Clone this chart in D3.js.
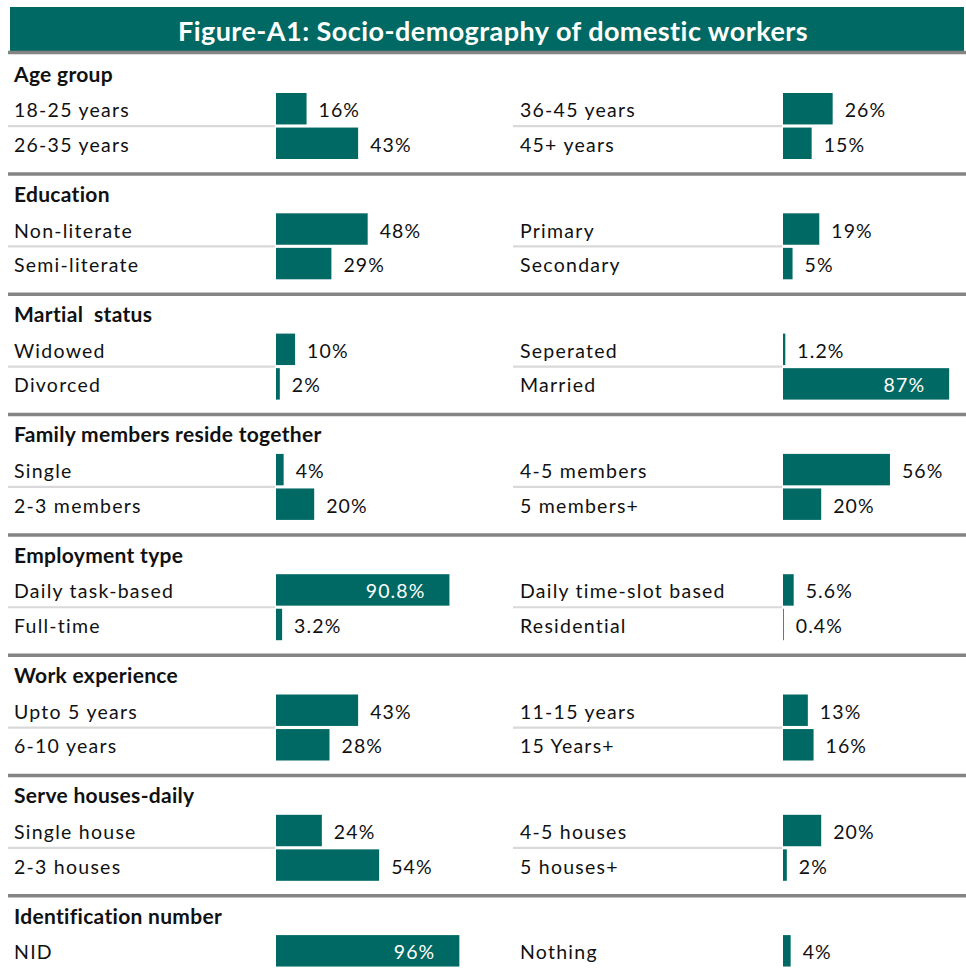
<!DOCTYPE html>
<html>
<head>
<meta charset="utf-8">
<script src="https://cdn.jsdelivr.net/npm/d3@7"></script>
<style>
  html, body { margin: 0; padding: 0; background: #ffffff; }
  svg { display: block; }
  text { font-family: Lato, "Open Sans", sans-serif; }
</style>
</head>
<body>
<svg id="chart" width="966" height="974"></svg>
<script>
// ---- data -------------------------------------------------------------
const title = "Figure-A1: Socio-demography of domestic workers";

const sectionNames = [
  "Age group",
  "Education",
  "Martial  status",
  "Family members reside together",
  "Employment type",
  "Work experience",
  "Serve houses-daily",
  "Identification number"
];

const ageGroups      = ["18-25 years", "26-35 years", "36-45 years", "45+ years"];
const ageShares      = [16, 43, 26, 15];

const educationLevels = ["Non-literate", "Semi-literate", "Primary", "Secondary"];
const educationShares = [48, 29, 19, 5];

const maritalStatus  = ["Widowed", "Divorced", "Seperated", "Married"];
const maritalShares  = [10, 2, 1.2, 87];

const familySizes    = ["Single", "2-3 members", "4-5 members", "5 members+"];
const familyShares   = [4, 20, 56, 20];

const employmentTypes  = ["Daily task-based", "Full-time", "Daily time-slot based", "Residential"];
const employmentShares = [90.8, 3.2, 5.6, 0.4];

const experienceBands  = ["Upto 5 years", "6-10 years", "11-15 years", "15 Years+"];
const experienceShares = [43, 28, 13, 16];

const housesServed   = ["Single house", "2-3 houses", "4-5 houses", "5 houses+"];
const housesShares   = [24, 54, 20, 2];

const idTypes        = ["NID", "Nothing"];
const idShares       = [96, 4];

const sectionCategories = [ageGroups, educationLevels, maritalStatus, familySizes,
                           employmentTypes, experienceBands, housesServed, idTypes];
const sectionValues     = [ageShares, educationShares, maritalShares, familyShares,
                           employmentShares, experienceShares, housesShares, idShares];

// ---- layout -----------------------------------------------------------
const W = 966, H = 974;
const teal = "#016963";
const heavyGrey = "#848484";
const lightGrey = "#d9d9d9";

const svg = d3.select("#chart");

// share (%) -> bar length
const x = d3.scaleLinear().domain([0, 100]).range([0, 191]);

// section index -> y of the heavy rule closing that section
const sectionBottom = d3.scaleLinear().domain([0, 1]).range([174, 294.3]);

// column geometry: label start, separator start, bar origin
const columns = [
  { label: 14,  sep: 8,   bar: 276 },
  { label: 520, sep: 513, bar: 783 }
];

// title banner
svg.append("rect")
  .attr("x", 10).attr("y", 7)
  .attr("width", 954).attr("height", 44.5)
  .attr("fill", teal);

svg.append("text")
  .attr("x", 493).attr("y", 40.5)
  .attr("text-anchor", "middle")
  .attr("fill", "#ffffff")
  .attr("font-weight", 700)
  .attr("font-size", 27)
  .attr("letter-spacing", 0.45)
  .text(title);

// rule under the banner
svg.append("line")
  .attr("x1", 8).attr("x2", W)
  .attr("y1", 52.5).attr("y2", 52.5)
  .attr("stroke", heavyGrey).attr("stroke-width", 3.5);

const rowBand = d3.scaleBand().domain([0, 1]).range([-81, -15]).paddingInner(0.09);

sectionNames.forEach((name, s) => {
  const bottom = sectionBottom(s);
  const g = svg.append("g").attr("transform", `translate(0,${bottom})`);

  // heading
  g.append("text")
    .attr("x", 14).attr("y", -92.5)
    .attr("font-weight", 700)
    .attr("font-size", 21)
    .attr("letter-spacing", 0.3)
    .attr("fill", "#111111")
    .style("white-space", "pre")
    .attr("xml:space", "preserve")
    .text(name);

  const cats = sectionCategories[s];
  const vals = sectionValues[s];
  const perCol = Math.ceil(cats.length / 2);

  const items = cats.map((c, i) => ({
    cat: c,
    val: vals[i],
    col: Math.floor(i / perCol),
    row: i % perCol
  }));

  // light rule between the two rows of each column
  if (perCol > 1) {
    columns.forEach(col => {
      const ySep = rowBand(0) + rowBand.bandwidth() + 1.6;
      g.append("line")
        .attr("x1", col.sep).attr("x2", col.bar - 1)
        .attr("y1", ySep).attr("y2", ySep)
        .attr("stroke", lightGrey).attr("stroke-width", 2.2);
    });
  }

  const item = g.selectAll("g.item").data(items).join("g").attr("class", "item");

  item.append("text")
    .attr("x", d => columns[d.col].label)
    .attr("y", d => rowBand(d.row) + rowBand.bandwidth() / 2 + 8.5)
    .attr("font-size", 19.5)
    .attr("letter-spacing", 1.25)
    .attr("fill", "#111111")
    .text(d => d.cat);

  item.append("rect")
    .attr("x", d => columns[d.col].bar)
    .attr("y", d => rowBand(d.row))
    .attr("width", d => x(d.val))
    .attr("height", rowBand.bandwidth())
    .attr("fill", teal);

  // value labels: inside the bar for the long ones, just past its end otherwise
  item.append("text")
    .attr("x", d => d.val > 80 ? columns[d.col].bar + x(d.val) - 24
                               : columns[d.col].bar + x(d.val) + 12)
    .attr("y", d => rowBand(d.row) + rowBand.bandwidth() / 2 + 8.5)
    .attr("text-anchor", d => d.val > 80 ? "end" : "start")
    .attr("font-size", 19.5)
    .attr("letter-spacing", 1.1)
    .attr("fill", d => d.val > 80 ? "#ffffff" : "#111111")
    .text(d => d.val + "%");

  // heavy rule closing the section
  g.append("line")
    .attr("x1", 8).attr("x2", W)
    .attr("y1", 0).attr("y2", 0)
    .attr("stroke", heavyGrey).attr("stroke-width", 3.5);
});
</script>
</body>
</html>
